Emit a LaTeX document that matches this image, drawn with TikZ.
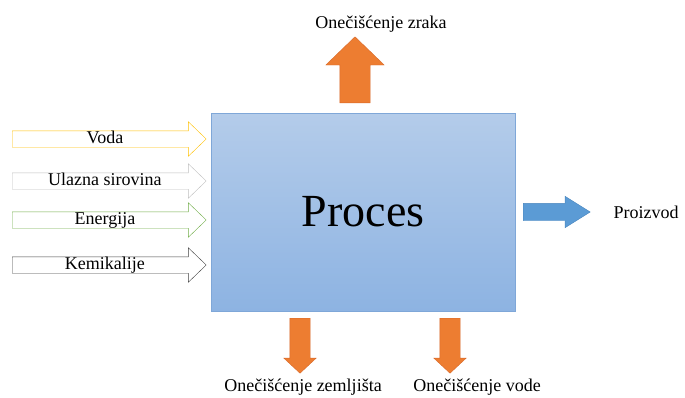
\documentclass[tikz,border=0pt]{standalone}
\usepackage{fontspec}
\setmainfont{Liberation Serif}
\usetikzlibrary{shapes.arrows}
\definecolor{boxtop}{HTML}{B4CCEA}
\definecolor{boxbot}{HTML}{8DB3E2}
\definecolor{boxedge}{HTML}{7FA7D8}
\definecolor{orangefill}{HTML}{ED7D31}
\definecolor{orangeedge}{HTML}{D8692A}
\definecolor{bluefill}{HTML}{5B9BD5}
\definecolor{blueedge}{HTML}{4A86BE}
\definecolor{vodacol}{HTML}{FFC000}
\definecolor{sirovcol}{HTML}{BFBFBF}
\definecolor{energcol}{HTML}{70AD47}
\definecolor{kemcol}{HTML}{404040}

\begin{document}
\begin{tikzpicture}[x=1pt,y=-1pt,
	in arrow/.style={single arrow,draw,fill=white,anchor=tail,minimum height=194,inner xsep=0,inner ysep=0.5,text height=12,text depth=3,single arrow head extend=9,single arrow tip angle=88},
	out arrow/.style={single arrow,draw=orangeedge,fill=orangefill,anchor=tail,inner xsep=0},
	proc box/.style={rectangle,draw=boxedge,top color=boxtop,bottom color=boxbot,minimum width=304,minimum height=198,inner sep=0}]
	\tikzstyle{every node}=[font=\fontsize{18}{20}\selectfont]
	\useasboundingbox (0,0) rectangle (685,397);
	% process
	\node[proc box] (proces) at (363,212) {\fontsize{46}{50}\selectfont Proces};
	% inputs
	\node[in arrow,draw=vodacol] (voda) at (12,139) {Voda};
	\node[in arrow,draw=sirovcol] (sirovina) at (12,181) {Ulazna sirovina};
	\node[in arrow,draw=energcol] (energija) at (12,220) {Energija};
	\node[in arrow,draw=kemcol] (kemikalije) at (12,265) {Kemikalije};
	% outputs
	\node[out arrow,rotate=90,minimum height=66,inner ysep=15,single arrow head extend=14,single arrow tip angle=92] (zrakarrow) at (355,103) {};
	\node[out arrow,rotate=-90,minimum height=55,inner ysep=10,single arrow head extend=6,single arrow tip angle=94] (zemljarrow) at (300,318) {};
	\node[out arrow,rotate=-90,minimum height=55,inner ysep=10,single arrow head extend=6,single arrow tip angle=94] (vodearrow) at (450,318) {};
	\node[single arrow,draw=blueedge,fill=bluefill,anchor=tail,inner xsep=0,minimum height=67,inner ysep=8.5,single arrow head extend=7,single arrow tip angle=64] (proizarrow) at (523,212) {};
	% labels
	\node[anchor=base] (zrak) at (381,28) {Onečišćenje zraka};
	\node[anchor=base] (zemlja) at (303,391) {Onečišćenje zemljišta};
	\node[anchor=base] (vode) at (477,391) {Onečišćenje vode};
	\node[anchor=west] (proizvod) at (610,212) {Proizvod};
\end{tikzpicture}
\end{document}
